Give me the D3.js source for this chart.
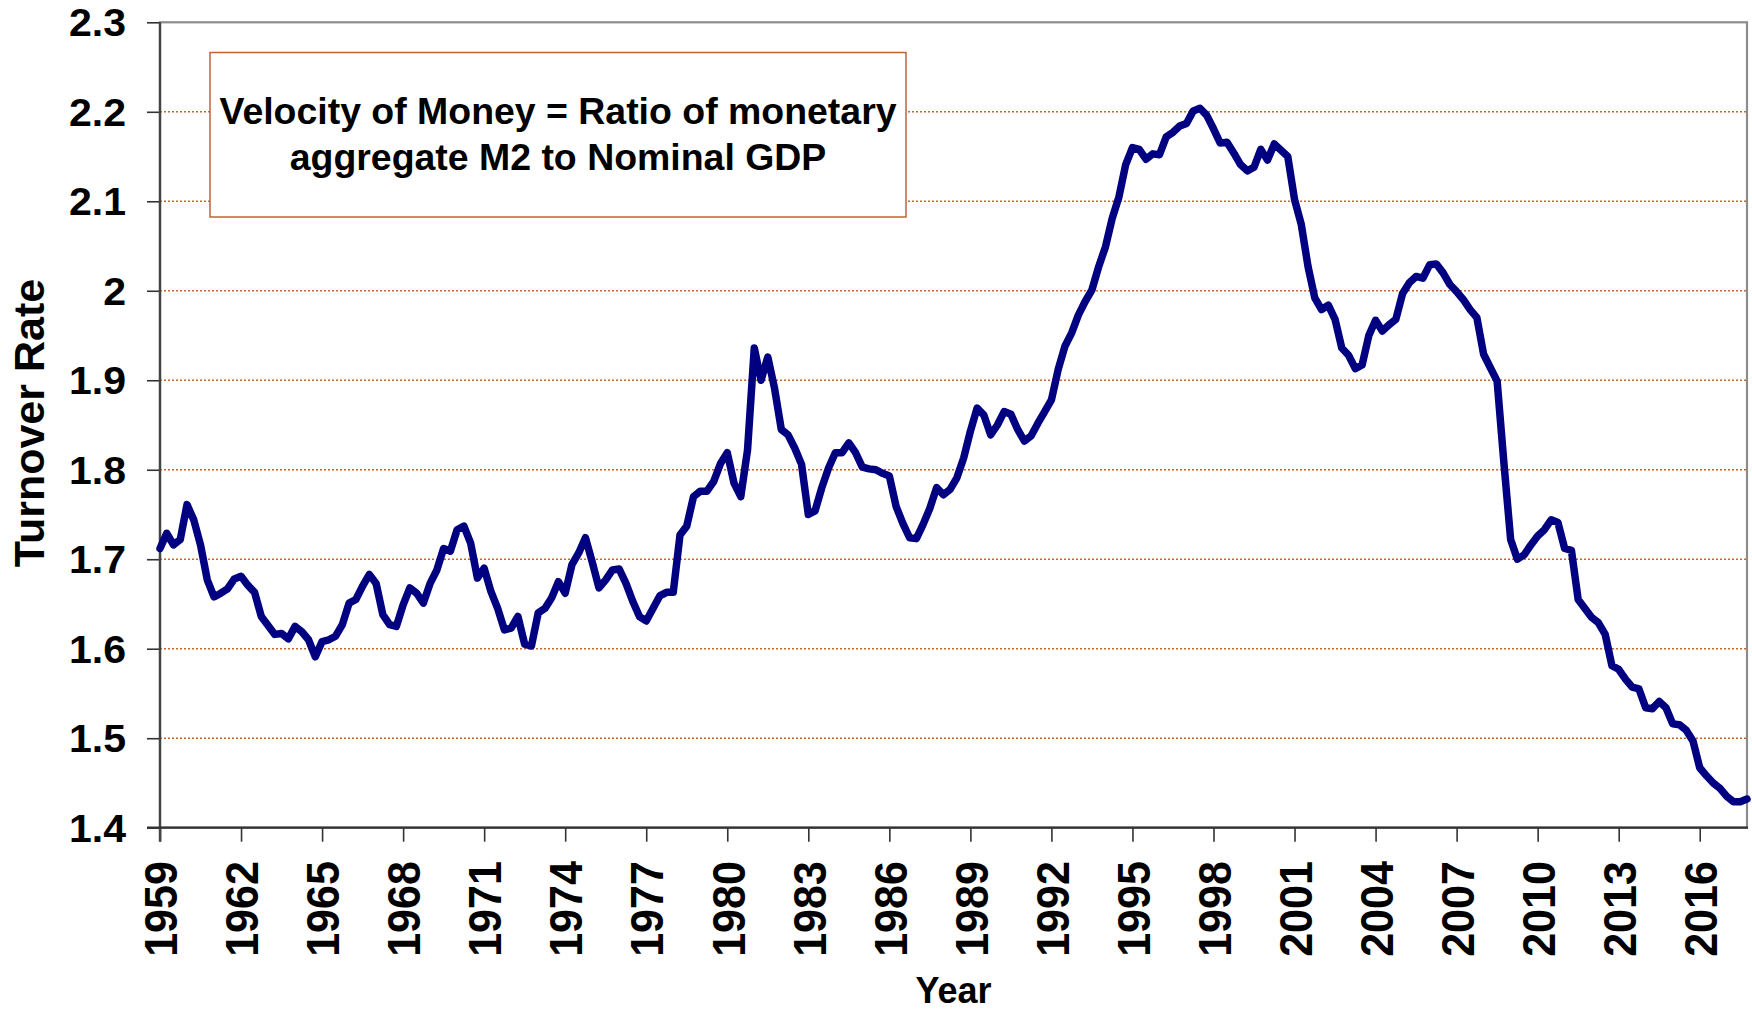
<!DOCTYPE html>
<html>
<head>
<meta charset="utf-8">
<script src="https://cdn.jsdelivr.net/npm/d3@7"></script>
<style>
  html, body { margin: 0; padding: 0; background: #fff; }
  svg { display: block; }
  text { font-family: "Liberation Sans", Arial, sans-serif; font-weight: bold; fill: #000; }
</style>
</head>
<body>
<div id="chart"></div>
<script>
// Velocity of M2, quarterly, 1959Q1 .. 2017Q4 (one row = 3 years)
const velocity = [
  1.712, 1.729, 1.716, 1.722, 1.761, 1.744, 1.716, 1.677, 1.658, 1.662, 1.667, 1.678,
  1.681, 1.671, 1.663, 1.636, 1.626, 1.616, 1.617, 1.611, 1.625, 1.619, 1.610, 1.591,
  1.608, 1.610, 1.614, 1.627, 1.651, 1.655, 1.670, 1.683, 1.673, 1.638, 1.627, 1.625,
  1.649, 1.668, 1.662, 1.651, 1.673, 1.688, 1.712, 1.709, 1.733, 1.737, 1.718, 1.679,
  1.690, 1.664, 1.645, 1.621, 1.623, 1.636, 1.605, 1.603, 1.640, 1.645, 1.657, 1.675,
  1.662, 1.694, 1.707, 1.724, 1.697, 1.668, 1.677, 1.688, 1.689, 1.673, 1.653, 1.636,
  1.631, 1.645, 1.659, 1.663, 1.663, 1.727, 1.737, 1.770, 1.776, 1.776, 1.787, 1.807,
  1.819, 1.785, 1.770, 1.822, 1.936, 1.900, 1.926, 1.891, 1.845, 1.839, 1.824, 1.806,
  1.750, 1.754, 1.780, 1.802, 1.819, 1.819, 1.830, 1.819, 1.803, 1.801, 1.800, 1.796,
  1.793, 1.759, 1.740, 1.724, 1.723, 1.739, 1.757, 1.780, 1.772, 1.778, 1.791, 1.813,
  1.843, 1.869, 1.861, 1.839, 1.850, 1.865, 1.862, 1.845, 1.832, 1.838, 1.852, 1.865,
  1.878, 1.912, 1.938, 1.953, 1.973, 1.988, 2.001, 2.027, 2.049, 2.081, 2.105, 2.141,
  2.160, 2.158, 2.147, 2.153, 2.152, 2.172, 2.177, 2.184, 2.187, 2.201, 2.204, 2.196,
  2.181, 2.165, 2.166, 2.154, 2.141, 2.134, 2.138, 2.158, 2.146, 2.164, 2.157, 2.150,
  2.102, 2.074, 2.027, 1.992, 1.979, 1.984, 1.968, 1.936, 1.928, 1.913, 1.917, 1.950,
  1.967, 1.955, 1.962, 1.968, 1.997, 2.009, 2.016, 2.014, 2.029, 2.030, 2.020, 2.007,
  1.999, 1.990, 1.979, 1.970, 1.929, 1.914, 1.899, 1.808, 1.722, 1.700, 1.705, 1.716,
  1.726, 1.733, 1.744, 1.741, 1.712, 1.710, 1.655, 1.645, 1.635, 1.629, 1.616, 1.581,
  1.577, 1.566, 1.557, 1.555, 1.534, 1.533, 1.541, 1.534, 1.516, 1.515, 1.509, 1.497,
  1.467, 1.458, 1.450, 1.444, 1.435, 1.429, 1.429, 1.432
];
const startYear = 1959;
const quarters = velocity.map((v, i) => `${startYear + Math.floor(i / 4)}Q${(i % 4) + 1}`);

const yTicks = [1.4, 1.5, 1.6, 1.7, 1.8, 1.9, 2.0, 2.1, 2.2, 2.3];
const yTickLabels = ['1.4', '1.5', '1.6', '1.7', '1.8', '1.9', '2', '2.1', '2.2', '2.3'];
const xTickLabels = ['1959', '1962', '1965', '1968', '1971', '1974', '1977', '1980', '1983', '1986',
  '1989', '1992', '1995', '1998', '2001', '2004', '2007', '2010', '2013', '2016'];

const titleLines = ['Velocity of Money = Ratio of monetary', 'aggregate M2 to Nominal GDP'];

const width = 1752, height = 1010;
const plot = { left: 160, right: 1747, top: 22.3, bottom: 827.7 };
const stretch = 1.08; // text in the original is slightly wide

const svg = d3.select('#chart').append('svg')
  .attr('width', width)
  .attr('height', height);

const x = d3.scaleLinear()
  .domain([0, velocity.length - 1])
  .range([plot.left, plot.right]);
const y = d3.scaleLinear()
  .domain([1.4, 2.3])
  .range([plot.bottom, plot.top]);

// gridlines
svg.append('g')
  .selectAll('line')
  .data(yTicks.filter(d => d > 1.45 && d < 2.25))
  .join('line')
  .attr('x1', plot.left).attr('x2', plot.right)
  .attr('y1', d => y(d)).attr('y2', d => y(d))
  .attr('stroke', '#c8642d')
  .attr('stroke-width', 1.4)
  .attr('stroke-dasharray', '2,2');

// plot frame (top + right are grey)
svg.append('rect')
  .attr('x', plot.left).attr('y', plot.top)
  .attr('width', plot.right - plot.left)
  .attr('height', plot.bottom - plot.top)
  .attr('fill', 'none')
  .attr('stroke', '#8c8c8c')
  .attr('stroke-width', 2.2);

// title box
const box = { x: 210, y: 52.5, w: 696, h: 164.5 };
svg.append('rect')
  .attr('x', box.x).attr('y', box.y)
  .attr('width', box.w).attr('height', box.h)
  .attr('fill', '#fff')
  .attr('stroke', '#c0623a')
  .attr('stroke-width', 1.5);

svg.append('g')
  .selectAll('text')
  .data(titleLines)
  .join('text')
  .attr('transform', (d, i) => `translate(${box.x + box.w / 2}, ${124 + i * 46}) scale(1.04,1)`)
  .attr('text-anchor', 'middle')
  .attr('font-size', 36)
  .text(d => d);

// y axis
const yAxis = svg.append('g')
  .attr('transform', `translate(${plot.left},0)`)
  .call(d3.axisLeft(y)
    .tickValues(yTicks)
    .tickSize(13)
    .tickFormat((d, i) => yTickLabels[i]));
yAxis.select('.domain').remove();
yAxis.selectAll('.tick line').attr('stroke', '#333').attr('stroke-width', 1.6);
yAxis.selectAll('.tick text')
  .attr('x', null)
  .attr('dy', '0.36em')
  .attr('transform', `translate(-34,0) scale(${stretch},1)`)
  .attr('font-size', 38)
  .attr('font-family', '"Liberation Sans", Arial, sans-serif')
  .attr('font-weight', 'bold')
  .attr('fill', '#000');

// x axis
const xTickIdx = xTickLabels.map((d, i) => i * 12);
const xAxis = svg.append('g')
  .attr('transform', `translate(0,${plot.bottom})`)
  .call(d3.axisBottom(x)
    .tickValues(xTickIdx)
    .tickSize(14)
    .tickFormat((d, i) => xTickLabels[i]));
xAxis.select('.domain').remove();
xAxis.selectAll('.tick line').attr('stroke', '#333').attr('stroke-width', 1.6);
xAxis.selectAll('.tick text')
  .attr('y', null)
  .attr('dy', '0.36em')
  .attr('text-anchor', 'end')
  .attr('transform', `translate(0,33.5) scale(${stretch},1) rotate(-90)`)
  .attr('font-size', 43)
  .attr('font-family', '"Liberation Sans", Arial, sans-serif')
  .attr('font-weight', 'bold')
  .attr('fill', '#000');

// axis lines
svg.append('line')
  .attr('x1', plot.left).attr('x2', plot.left)
  .attr('y1', plot.top).attr('y2', plot.bottom + 14)
  .attr('stroke', '#444').attr('stroke-width', 2.4);
svg.append('line')
  .attr('x1', plot.left - 13).attr('x2', plot.right + 1)
  .attr('y1', plot.bottom).attr('y2', plot.bottom)
  .attr('stroke', '#333').attr('stroke-width', 2.2);

// series
const line = d3.line()
  .x((d, i) => x(i))
  .y(d => y(d));
svg.append('path')
  .datum(velocity)
  .attr('fill', 'none')
  .attr('stroke', '#000080')
  .attr('stroke-width', 7.5)
  .attr('stroke-linejoin', 'round')
  .attr('stroke-linecap', 'round')
  .attr('d', line);

// axis titles
svg.append('text')
  .attr('transform', 'translate(29,423) rotate(-90)')
  .attr('text-anchor', 'middle')
  .attr('dy', '0.36em')
  .attr('font-size', 43)
  .text('Turnover Rate');

svg.append('text')
  .attr('transform', `translate(${(plot.left + plot.right) / 2},1003)`)
  .attr('text-anchor', 'middle')
  .attr('font-size', 36)
  .text('Year');
</script>
</body>
</html>
